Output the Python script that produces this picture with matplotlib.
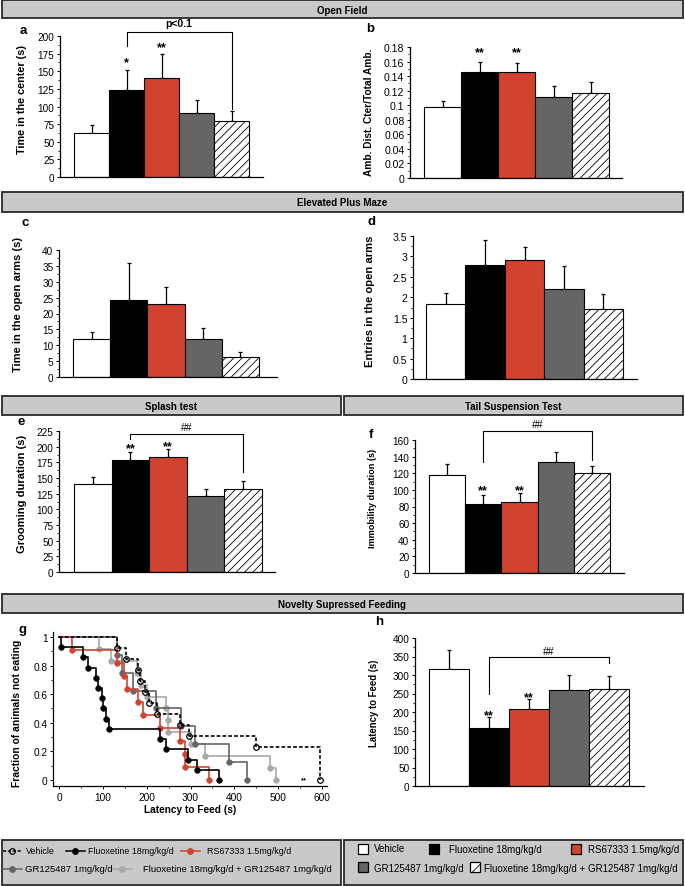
import matplotlib
matplotlib.use('Agg')
import matplotlib.pyplot as plt
from matplotlib.patches import Rectangle
from matplotlib.ticker import AutoMinorLocator, FuncFormatter, MultipleLocator
from matplotlib.transforms import offset_copy

plt.rcParams['font.family'] = ['Liberation Sans', 'DejaVu Sans']
plt.rcParams['hatch.linewidth'] = 0.6

W, H = 685, 887

groups = ['Vehicle', 'Fluoxetine 18mg/kg/d', 'RS67333 1.5mg/kg/d',
          'GR125487 1mg/kg/d', 'Fluoxetine 18mg/kg/d + GR125487 1mg/kg/d']

# bar panels: mean and SEM (upper part only shown)
of_center = [63, 123, 141, 91, 80]
of_center_sem = [11, 29, 34, 18, 14]
of_ratio = [0.097, 0.146, 0.145, 0.111, 0.117]
of_ratio_sem = [0.009, 0.014, 0.013, 0.016, 0.015]
epm_time = [12.0, 24.2, 23.0, 12.0, 6.2]
epm_time_sem = [2.2, 11.8, 5.2, 3.5, 1.6]
epm_entries = [1.84, 2.8, 2.92, 2.2, 1.72]
epm_entries_sem = [0.26, 0.6, 0.3, 0.56, 0.36]
splash = [141, 179, 184, 121, 132]
splash_sem = [11, 13, 13, 12, 13]
tst = [118, 83, 86, 133, 120]
tst_sem = [13, 11, 10, 13, 9]
nsf_latency = [317, 158, 207, 260, 262]
nsf_latency_sem = [50, 28, 27, 40, 36]

# novelty suppressed feeding: event times (s) and fraction not eating
veh_t = [132, 152, 180, 185, 195, 204, 224, 276, 297, 450, 597]
veh_s = [0.923, 0.846, 0.769, 0.692, 0.615, 0.538, 0.462, 0.385, 0.308, 0.231, 0]
flu_t = [3, 55, 66, 85, 89, 97, 101, 107, 114, 231, 245, 294, 314, 366]
flu_s = [0.929, 0.857, 0.786, 0.714, 0.643, 0.571, 0.5, 0.429, 0.357, 0.286,
         0.214, 0.143, 0.071, 0]
rs_t = [28, 133, 148, 155, 181, 192, 231, 275, 287, 288, 343]
rs_s = [0.909, 0.818, 0.727, 0.636, 0.545, 0.455, 0.364, 0.273, 0.182, 0.091, 0]
gr_t = [131, 143, 169, 222, 278, 310, 389, 428]
gr_s = [0.875, 0.75, 0.625, 0.5, 0.375, 0.25, 0.125, 0]
flugr_t = [91, 118, 178, 186, 200, 245, 248, 249, 300, 333, 482, 495]
flugr_s = [0.917, 0.833, 0.75, 0.667, 0.583, 0.5, 0.417, 0.333, 0.25, 0.167,
           0.083, 0]

RED = '#d1432f'
DARK = '#656565'
LIGHT = '#a8a8a8'
BOXGRAY = '#c9c9c9'
bar_colors = ['white', 'black', RED, DARK, 'white']
bar_hatches = [None, None, None, None, '////']

fig = plt.figure(figsize=(W / 100, H / 100), dpi=100)
fmt = FuncFormatter(lambda v, _: f'{v:g}')


def px_axes(left, top, right, bottom):
    return fig.add_axes([left / W, 1 - bottom / H, (right - left) / W, (bottom - top) / H])


def style_axes(ax, tick_size):
    for s in ['top', 'right']:
        ax.spines[s].set_visible(False)
    for s in ['left', 'bottom']:
        ax.spines[s].set_linewidth(0.9)
    ax.tick_params(direction='out', length=2.5, width=0.7, labelsize=tick_size, pad=1.5)
    ax.tick_params(which='minor', direction='out', length=1.4, width=0.6)


def set_ylabel_px(ax, box, text, size, label_x, label_y):
    left, top, right, bottom = box
    ax.set_ylabel(text, fontsize=size, fontweight='bold')
    ax.yaxis.set_label_coords((label_x - left) / (right - left),
                              (bottom - label_y) / (bottom - top))


def bar_panel(box, bar_left, bar_w, vals, sems, ymax, ystep, ylabel, label_size,
              label_xy, tick_size=7.2):
    left, top, right, bottom = box
    ax = px_axes(*box)
    x = range(len(vals))
    for i in x:
        ax.bar(i, vals[i], width=1.0, color=bar_colors[i], edgecolor='black',
               linewidth=0.8, hatch=bar_hatches[i], zorder=2)
    ax.errorbar(list(x), vals, yerr=[[0] * len(vals), sems], fmt='none',
                ecolor='black', elinewidth=0.9, capsize=1.3, capthick=0.9, zorder=1)
    ax.set_xlim((left - bar_left) / bar_w - 0.5, (right - bar_left) / bar_w - 0.5)
    ax.set_ylim(0, ymax)
    ax.yaxis.set_major_locator(MultipleLocator(ystep))
    ax.yaxis.set_minor_locator(AutoMinorLocator(2))
    ax.yaxis.set_major_formatter(fmt)
    ax.tick_params(axis='x', bottom=False, labelbottom=False)
    set_ylabel_px(ax, box, ylabel, label_size, *label_xy)
    style_axes(ax, tick_size)
    return ax


def stars(ax, x, y, s, size=9):
    # y is where the centre of the asterisks should sit
    tr = offset_copy(ax.transData, fig=fig, y=-0.56 * size, units='points')
    ax.text(x, y, s, ha='center', va='baseline', fontsize=size, fontweight='bold',
            transform=tr, clip_on=False)


def bracket(ax, x0, x1, y, y0, y1, label, ly, size=7.5):
    ax.plot([x0, x0, x1, x1], [y0, y, y, y1], color='black', lw=0.8,
            clip_on=False, zorder=3)
    ax.text((x0 + x1) / 2, ly, label, ha='center', va='center', fontsize=size,
            fontweight='bold' if label.startswith('p') else 'normal', clip_on=False)


# overlay for section headers and legends (pixel coordinates)
ov = fig.add_axes([0, 0, 1, 1])
ov.set_xlim(0, W)
ov.set_ylim(H, 0)
ov.axis('off')


def header(x0, y0, x1, y1, title):
    ov.add_patch(Rectangle((x0, y0), x1 - x0, y1 - y0, facecolor=BOXGRAY,
                           edgecolor='#2a2a2a', linewidth=1.3))
    ov.text((x0 + x1) / 2, (y0 + y1) / 2 + 0.5, title, ha='center', va='center',
            fontsize=7, fontweight='bold')


header(2, 1, 683, 19, 'Open Field')
header(2, 193, 683, 213, 'Elevated Plus Maze')
header(2, 397, 341, 416, 'Splash test')
header(344, 397, 683, 416, 'Tail Suspension Test')
header(2, 595, 683, 614, 'Novelty Supressed Feeding')

# panel a
box = (60, 37, 263, 178)
ax = bar_panel(box, 74, 35, of_center, of_center_sem, 200, 25,
               'Time in the center (s)', 7.8, (27, 100))
stars(ax, 1, 169, '*')
stars(ax, 2, 190, '**')
bracket(ax, 1, 4, 206, 186, 97, 'p<0.1', 218)

# panel b
box = (410, 48, 622, 179)
ax = bar_panel(box, 424, 37, of_ratio, of_ratio_sem, 0.18, 0.02,
               'Amb. Dist. Cter/Total Amb.', 7.3, (374, 112), tick_size=7.6)
stars(ax, 1, 0.179, '**')
stars(ax, 2, 0.178, '**')

# panel c
box = (59, 251, 277, 378)
bar_panel(box, 73, 37.2, epm_time, epm_time_sem, 40, 5,
          'Time in the open arms (s)', 8.0, (23, 305))

# panel d
box = (413, 237, 637, 380)
bar_panel(box, 426, 39.4, epm_entries, epm_entries_sem, 3.5, 0.5,
          'Entries in the open arms', 8.1, (375, 301), tick_size=7.6)

# panel e
box = (59, 432, 275, 573)
ax = bar_panel(box, 74, 37.6, splash, splash_sem, 225, 25,
               'Grooming duration (s)', 8.0, (27, 494))
stars(ax, 1, 204, '**')
stars(ax, 2, 207, '**')
bracket(ax, 1, 4, 221, 212, 159, '##', 232)

# panel f
box = (415, 441, 624, 574)
ax = bar_panel(box, 429, 36.2, tst, tst_sem, 160, 20,
               'Immobility duration (s)', 6.6, (377, 498))
stars(ax, 1, 104, '**')
stars(ax, 2, 104, '**')
bracket(ax, 1, 4, 171, 133, 136, '##', 179)

# panel h
box = (415, 639, 644, 787)
ax = bar_panel(box, 429, 40, nsf_latency, nsf_latency_sem, 400, 50,
               'Latency to Feed (s)', 6.9, (379, 703))
stars(ax, 1, 202, '**')
stars(ax, 2, 251, '**')
bracket(ax, 1, 4, 349, 248, 332, '##', 366)

# panel g: survival curves
box = (53, 633, 327, 787)
axg = px_axes(*box)
curves = [
    (flugr_t, flugr_s, LIGHT, '-', LIGHT),
    (gr_t, gr_s, DARK, '-', DARK),
    (rs_t, rs_s, RED, '-', RED),
    (flu_t, flu_s, 'black', '-', 'black'),
    (veh_t, veh_s, 'black', (0, (2.2, 1.3)), 'none'),
]
for t, s, col, ls, mfc in curves:
    axg.step([0] + t, [1] + s, where='post', color=col, lw=1.2, ls=ls)
    axg.plot(t, s, 'o', ms=4, mfc=mfc, mec=col, mew=0.9 if mfc == 'none' else 0.5,
             ls='none')
axg.text(560, 0.0, '**', ha='center', va='center', fontsize=5.5, fontweight='bold')
axg.set_xlim(-14.4, 612)
axg.set_ylim(-0.042, 1.035)
axg.xaxis.set_major_locator(MultipleLocator(100))
axg.xaxis.set_minor_locator(AutoMinorLocator(2))
axg.yaxis.set_major_locator(MultipleLocator(0.2))
axg.yaxis.set_minor_locator(AutoMinorLocator(2))
axg.yaxis.set_major_formatter(fmt)
axg.set_xlabel('Latency to Feed (s)', fontsize=7.3, fontweight='bold', labelpad=2)
set_ylabel_px(axg, box, 'Fraction of animals not eating', 7.4, 22, 713)
style_axes(axg, 7.3)

# panel letters
for letter, (lx, ly) in {'a': (23, 31), 'b': (370, 29), 'c': (25, 223), 'd': (372, 222),
                         'e': (21, 422), 'f': (371, 435), 'g': (23, 630),
                         'h': (379, 622)}.items():
    ov.text(lx, ly, letter, ha='center', va='center', fontsize=9.5, fontweight='bold')

# legends
ov.add_patch(Rectangle((2, 841), 339, 45, facecolor=BOXGRAY, edgecolor='#2a2a2a',
                       linewidth=1.3))
ov.add_patch(Rectangle((344, 841), 339, 45, facecolor=BOXGRAY, edgecolor='#2a2a2a',
                       linewidth=1.3))

line_entries = [
    (3, 852, 'black', (0, (2, 1.2)), 'none', 26, groups[0], 6.4),
    (66, 852, 'black', '-', 'black', 88, groups[1], 6.4),
    (181, 852, RED, '-', RED, 207, groups[2], 6.4),
    (3, 870, DARK, '-', DARK, 25, groups[3], 6.8),
    (113, 870, LIGHT, '-', LIGHT, 143, groups[4], 6.8),
]
for x0, y, col, ls, mfc, tx, label, fs in line_entries:
    ov.plot([x0, x0 + 19], [y, y], color=col, ls=ls, lw=1.1)
    ov.plot([x0 + 9.5], [y], 'o', ms=4, mfc=mfc, mec=col, mew=0.9)
    ov.text(tx, y, label, ha='left', va='center', fontsize=fs)

box_entries = [
    (358, 850, 0, 374, 849),
    (429, 850, 1, 449, 850),
    (571, 850, 2, 588, 850),
    (358, 868, 3, 374, 869),
    (470, 868, 4, 484, 869),
]
for bx, by, i, tx, ty in box_entries:
    ov.add_patch(Rectangle((bx, by - 5), 10, 10, facecolor=bar_colors[i],
                           edgecolor='black', linewidth=0.9,
                           hatch='///' if bar_hatches[i] else None))
    ov.text(tx, ty, groups[i], ha='left', va='center', fontsize=7)

fig.savefig('out.png', dpi=100)
